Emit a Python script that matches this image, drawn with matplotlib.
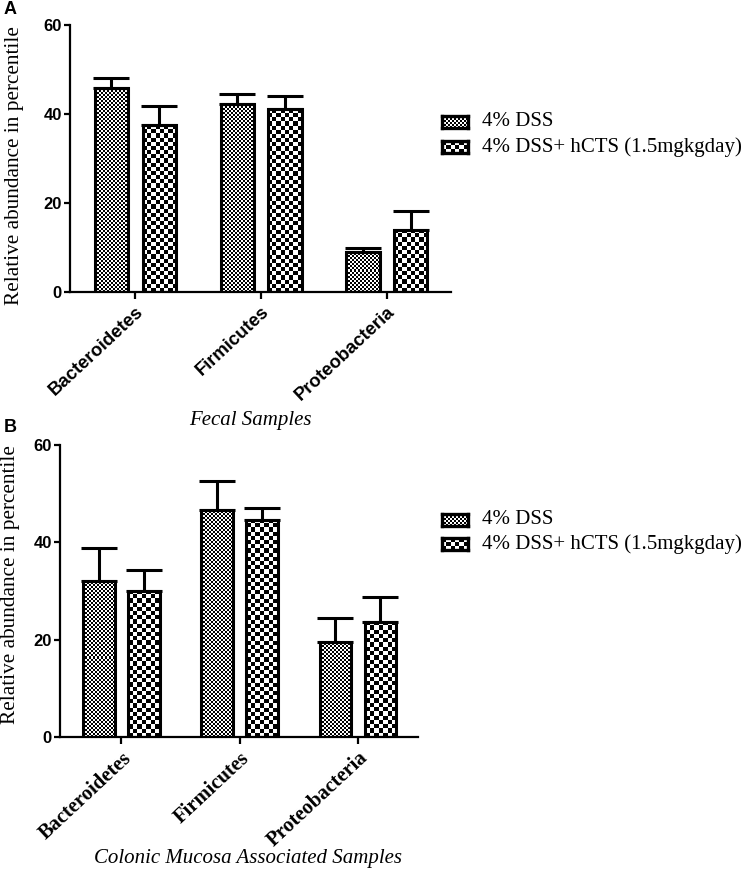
import numpy as np
import matplotlib
matplotlib.use('Agg')
import matplotlib.pyplot as plt

# data
taxa = ['Bacteroidetes', 'Firmicutes', 'Proteobacteria']
groups = ['4% DSS', '4% DSS+ hCTS (1.5mgkgday)']

fecal_dss = [45.8, 42.2, 9.0]
fecal_dss_err = [2.3, 2.3, 0.9]
fecal_hcts = [37.5, 41.1, 14.0]
fecal_hcts_err = [4.3, 2.9, 4.3]

mucosa_dss = [32.1, 46.7, 19.6]
mucosa_dss_err = [6.8, 5.9, 4.9]
mucosa_hcts = [30.1, 44.6, 23.7]
mucosa_hcts_err = [4.3, 2.4, 5.0]

yticks = [0, 20, 40, 60]

W, H = 749, 872
fig = plt.figure(figsize=(W / 100, H / 100), dpi=100)

SANS = 'Liberation Sans'
SERIF = 'Liberation Serif'
CHECK = [2.0, 4.2]   # checker square size in px for each group


def px_rect(x, y, w, h):
    # pixel box (top-left origin) -> figure fraction
    return [x / W, 1 - (y + h) / H, w / W, h / H]


def checker(ax, x0, x1, y0, y1, sq):
    X0, Y0 = ax.transData.transform((x0, y0))
    X1, Y1 = ax.transData.transform((x1, y1))
    nx = max(1, int(round(abs(X1 - X0) / sq)))
    ny = max(1, int(round(abs(Y1 - Y0) / sq)))
    img = np.indices((ny, nx)).sum(axis=0) % 2
    ax.imshow(img, cmap='gray', extent=(x0, x1, y0, y1), aspect='auto',
              interpolation='nearest', origin='lower', zorder=1)


def panel(rect, series, errs, tick_font, tick_size, xlabel, xlabel_xy, ylabel_xy):
    ax = fig.add_axes(px_rect(*rect))
    ax.set_xlim(-0.52, 2.51)
    ax.set_ylim(0, 60)
    ax.set_autoscale_on(False)
    x = np.arange(len(taxa))
    width = 0.265
    offs = [-0.19, 0.19]
    for k in range(2):
        bars = ax.bar(x + offs[k], series[k], width, facecolor='none',
                      edgecolor='black', linewidth=2.2, zorder=2)
        for b in bars:
            checker(ax, b.get_x(), b.get_x() + b.get_width(), 0, b.get_height(), CHECK[k])
        ax.errorbar(x + offs[k], series[k], yerr=[[0] * 3, errs[k]], fmt='none',
                    ecolor='black', elinewidth=2.2, capsize=13, capthick=2.2, zorder=3)
    for s in ['top', 'right']:
        ax.spines[s].set_visible(False)
    for s in ['left', 'bottom']:
        ax.spines[s].set_linewidth(1.6)
    ax.set_yticks(yticks)
    ax.set_yticklabels([str(t) for t in yticks], fontfamily=SANS, fontweight='bold', fontsize=12)
    ax.set_xticks(x)
    ax.set_xticklabels(taxa, rotation=43, ha='right', rotation_mode='anchor',
                       fontfamily=tick_font, fontweight='bold', fontsize=tick_size)
    ax.tick_params(axis='y', length=4, width=1.6, pad=2)
    ax.tick_params(axis='x', length=5, width=1.6, pad=3)
    fig.text(xlabel_xy[0] / W, 1 - xlabel_xy[1] / H, xlabel, ha='center', va='center',
             fontfamily=SERIF, fontstyle='italic', fontsize=15)
    fig.text(ylabel_xy[0] / W, 1 - ylabel_xy[1] / H, 'Relative abundance in percentile',
             rotation=90, ha='center', va='center', fontfamily=SERIF, fontsize=15.3)
    return ax


def legend(x, y0, dy):
    for k, g in enumerate(groups):
        y = y0 + k * dy
        lax = fig.add_axes(px_rect(x, y - 6, 26, 12))
        lax.set_xlim(0, 1)
        lax.set_ylim(0, 1)
        checker(lax, 0, 1, 0, 1, CHECK[k])
        lax.set_xticks([])
        lax.set_yticks([])
        for s in lax.spines.values():
            s.set_linewidth(2.4)
        fig.text((x + 40) / W, 1 - y / H, g, ha='left', va='center',
                 fontfamily=SERIF, fontsize=15)


# A: fecal samples
panel((70, 25, 381, 267), [fecal_dss, fecal_hcts], [fecal_dss_err, fecal_hcts_err],
      SANS, 13.3, 'Fecal Samples', (250, 420), (15, 166))
legend(442, 122, 25)
fig.text(10 / W, 1 - 10 / H, 'A', ha='center', va='center', fontfamily=SANS,
         fontweight='bold', fontsize=13)

# B: colonic mucosa associated samples
panel((60, 445, 358, 292), [mucosa_dss, mucosa_hcts], [mucosa_dss_err, mucosa_hcts_err],
      SERIF, 14.8, 'Colonic Mucosa Associated Samples', (248, 858), (11, 585))
legend(442, 520, 24)
fig.text(10 / W, 1 - 427 / H, 'B', ha='center', va='center', fontfamily=SANS,
         fontweight='bold', fontsize=13)

plt.savefig('out.png', dpi=100)
